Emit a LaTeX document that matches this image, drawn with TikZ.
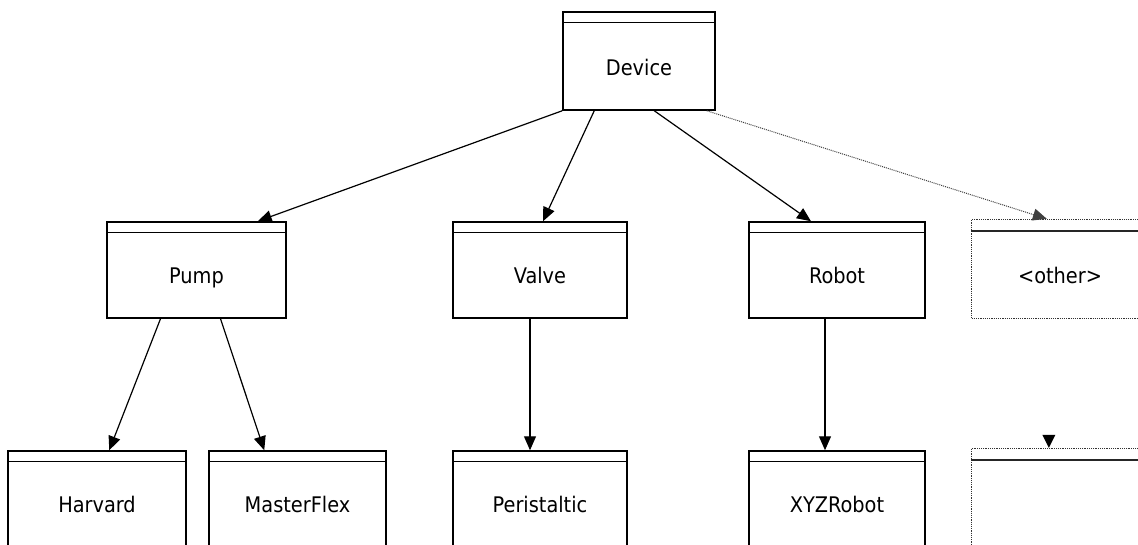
\documentclass[tikz,border=0pt]{standalone}
\usepackage{fontspec}
\setmainfont{DejaVu Sans Condensed}
\usetikzlibrary{arrows.meta}
\tikzset{
  cls/.style={draw=black, line width=1.5pt, rectangle, inner sep=0pt, minimum height=96pt},
  clsdot/.style={draw=black!80, line width=1.2pt, densely dotted, rectangle, inner sep=0pt, minimum height=97pt},
  lbl/.style={font=\fontsize{21.5}{25}\selectfont, inner sep=0pt, anchor=base},
  hdr/.style={line width=1.5pt},
  link/.style={line width=1.2pt, -{Triangle[length=14pt,width=12pt]}},
  dlink/.style={line width=1pt, black!75, densely dotted, -{Triangle[length=14pt,width=12pt]}}
}
\begin{document}
\begin{tikzpicture}[x=1pt,y=-1pt]
\useasboundingbox (0,0) rectangle (1138,544);
% boxes
\node[cls, minimum width=152pt, minimum height=98pt] (dev) at (639,61) {};
\node[cls, minimum width=179pt] (pump) at (196.5,270) {};
\node[cls, minimum width=174pt] (valve) at (540,270) {};
\node[cls, minimum width=176pt] (robot) at (837,270) {};
\node[clsdot, minimum width=179pt, minimum height=99pt] (oth) at (1061,269) {};
\node[cls, minimum width=178pt] (harv) at (97,499) {};
\node[cls, minimum width=177pt] (mflex) at (297.5,499) {};
\node[cls, minimum width=174pt] (peri) at (540,499) {};
\node[cls, minimum width=176pt] (xyz) at (837,499) {};
\node[clsdot, minimum width=179pt] (oth2) at (1061,497) {};
% header lines
\foreach \n in {dev,pump,valve,robot,harv,mflex,peri,xyz}
  \draw[hdr] ([yshift=-11pt]\n.north west) -- ([yshift=-11pt]\n.north east);
\draw[hdr, black!85] ([yshift=-12pt]oth.north west) -- ([yshift=-12pt]oth.north east);
\draw[hdr, black!85] ([yshift=-12pt]oth2.north west) -- ([yshift=-12pt]oth2.north east);
% labels
\node[lbl] (devT) at (639,75) {Device};
\node[lbl] (pumpT) at (196.5,283) {Pump};
\node[lbl] (valveT) at (540,283) {Valve};
\node[lbl] (robotT) at (837,283) {Robot};
\node[lbl] (othT) at (1060,283) {<other>};
\node[lbl] (harvT) at (97,512) {Harvard};
\node[lbl] (mflexT) at (297.5,512) {MasterFlex};
\node[lbl] (periT) at (540,512) {Peristaltic};
\node[lbl] (xyzT) at (837,512) {XYZRobot};
% connectors
\draw[link] (dev.south west) -- ([xshift=-29pt]pump.north east);
\draw[link] ([xshift=32pt]dev.south west) -- ([xshift=3pt]valve.north);
\draw[link] ([xshift=92pt]dev.south west) -- ([xshift=-26pt]robot.north);
\draw[dlink] ([xshift=-9pt]dev.south east) -- ([xshift=76pt]oth.north west);
\draw[link] ([xshift=-36pt]pump.south) -- ([xshift=102pt]harv.north west);
\draw[link] ([xshift=24pt]pump.south) -- ([xshift=56pt]mflex.north west);
\draw[link] ([xshift=-10pt]valve.south) -- ([xshift=-10pt]peri.north);
\draw[link] ([xshift=-12pt]robot.south) -- ([xshift=-12pt]xyz.north);
% lone arrowhead above the dotted bottom box
\coordinate (otip) at ([xshift=78pt]oth2.north west);
\fill (otip) -- ++(-6.5pt,13pt) -- ++(13pt,0) -- cycle;
\end{tikzpicture}
\end{document}
